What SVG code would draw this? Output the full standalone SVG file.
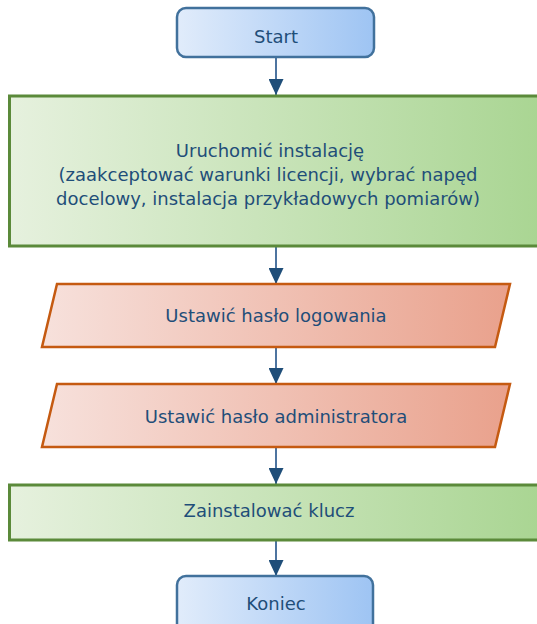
<svg xmlns="http://www.w3.org/2000/svg" width="537" height="624" viewBox="0 0 537 624">
<defs>
<linearGradient id="gBlue" x1="0" y1="0" x2="1" y2="0"><stop offset="0" stop-color="#e1ecfb"/><stop offset="1" stop-color="#9ec4f3"/></linearGradient>
<linearGradient id="gGreen" x1="0" y1="0" x2="1" y2="0"><stop offset="0" stop-color="#e6f1de"/><stop offset="1" stop-color="#a9d592"/></linearGradient>
<linearGradient id="gRed" x1="0" y1="0" x2="1" y2="0"><stop offset="0" stop-color="#f7e1dc"/><stop offset="1" stop-color="#e9a18c"/></linearGradient>
<marker id="arr" markerWidth="16" markerHeight="15" refX="16" refY="7.5" orient="auto" markerUnits="userSpaceOnUse"><path d="M0,0 L16,7.5 L0,15 Z" fill="#1f4e79"/></marker>
<style>
.term{fill:url(#gBlue);stroke:#41719c;stroke-width:2.5}
.proc{fill:url(#gGreen);stroke:#5b8a3a;stroke-width:3}
.io{fill:url(#gRed);stroke:#c55a11;stroke-width:2.5}
.lbl{font-family:"DejaVu Sans",Verdana,sans-serif;font-size:18px;fill:#1f4e79;text-anchor:middle;dominant-baseline:central}
.conn{stroke:#4d74a0;stroke-width:2;fill:none;marker-end:url(#arr)}
</style>
</defs>
<g id="connectors">
<line class="conn" x1="276" y1="58" x2="276" y2="95"/>
<line class="conn" x1="276" y1="247" x2="276" y2="284"/>
<line class="conn" x1="276" y1="348" x2="276" y2="384"/>
<line class="conn" x1="276" y1="448" x2="276" y2="484"/>
<line class="conn" x1="276" y1="540" x2="276" y2="576"/>
</g>
<g id="start">
<rect class="term" x="177" y="8" width="197" height="49" rx="9"/>
<text class="lbl" x="276" y="36">Start</text>
</g>
<g id="install">
<rect class="proc" x="9.5" y="96" width="535" height="150"/>
<text class="lbl" x="270" y="150">Uruchomić instalację</text>
<text class="lbl" x="268" y="174">(zaakceptować warunki licencji, wybrać napęd</text>
<text class="lbl" x="268" y="198">docelowy, instalacja przykładowych pomiarów)</text>
</g>
<g id="login">
<polygon class="io" points="57,284 510,284 495,347 42,347"/>
<text class="lbl" x="276" y="315">Ustawić hasło logowania</text>
</g>
<g id="admin">
<polygon class="io" points="57,384 510,384 495,447 42,447"/>
<text class="lbl" x="276" y="416">Ustawić hasło administratora</text>
</g>
<g id="key">
<rect class="proc" x="9.5" y="485" width="535" height="55"/>
<text class="lbl" x="269" y="510">Zainstalować klucz</text>
</g>
<g id="end">
<rect class="term" x="177" y="576" width="196" height="60" rx="9"/>
<text class="lbl" x="276" y="603">Koniec</text>
</g>
</svg>
